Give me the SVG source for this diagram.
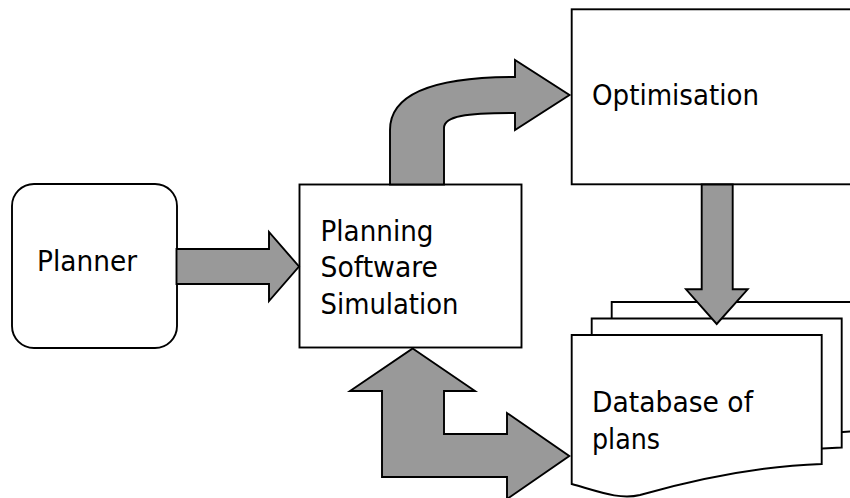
<svg xmlns="http://www.w3.org/2000/svg" width="850" height="498" viewBox="0 0 850 498">
  <style>
    .box { fill: #ffffff; stroke: #000000; stroke-width: 1.9; }
    .arrow { fill: #999999; stroke: #000000; stroke-width: 1.9; stroke-linejoin: miter; }
    .lbl { font-family: "DejaVu Sans", "Liberation Sans", sans-serif; font-size: 29px; fill: #000000; }
  </style>
  <defs>
    <path id="doc" d="M571.7,335 L821.7,335 L821.7,464 C760,466 700,478 640,495 C620,500 600,492 571.7,484 Z"/>
  </defs>
  <rect width="850" height="498" fill="#ffffff"/>

  <g id="planner">
    <rect class="box" x="12" y="184" width="165" height="164" rx="22" ry="22"/>
    <text class="lbl" x="37" y="270.5" textLength="100" lengthAdjust="spacingAndGlyphs">Planner</text>
  </g>

  <g id="planning-software-simulation">
    <rect class="box" x="299.5" y="184.5" width="222" height="163"/>
    <text class="lbl" x="320.5" y="240.5" textLength="113" lengthAdjust="spacingAndGlyphs">Planning</text>
    <text class="lbl" x="320.5" y="277" textLength="117.5" lengthAdjust="spacingAndGlyphs">Software</text>
    <text class="lbl" x="320.5" y="313.5" textLength="138" lengthAdjust="spacingAndGlyphs">Simulation</text>
  </g>

  <g id="optimisation">
    <rect class="box" x="571.7" y="9.3" width="300" height="175"/>
    <text class="lbl" x="592" y="105" textLength="167" lengthAdjust="spacingAndGlyphs">Optimisation</text>
  </g>

  <g id="database-of-plans">
    <use href="#doc" class="box" transform="translate(40,-33)"/>
    <use href="#doc" class="box" transform="translate(20,-16.5)"/>
    <use href="#doc" class="box"/>
    <text class="lbl" x="592" y="411.5" textLength="161" lengthAdjust="spacingAndGlyphs">Database of</text>
    <text class="lbl" x="592" y="448.5" textLength="68" lengthAdjust="spacingAndGlyphs">plans</text>
  </g>

  <g id="connectors">
    <polygon class="arrow" points="176.5,249 269,249 269,232 299,266.5 269,301 269,284 176.5,284"/>
    <path class="arrow" d="M390,184.5 L390,130 C390,92 438,77 515,77 L515,60 L569.5,95 L515,130 L515,113 C466,113 444,116 444,128 L444,184.5 Z"/>
    <polygon class="arrow" points="701.7,184.5 732.7,184.5 732.7,289.3 747.7,289.3 716.7,324 686,289.3 701.7,289.3"/>
    <polygon class="arrow" points="412.7,348.5 475,391 444,391 444,434 507,434 507,413 569.3,456 507,499 507,477 382,477 382,391 350,391"/>
  </g>
</svg>
